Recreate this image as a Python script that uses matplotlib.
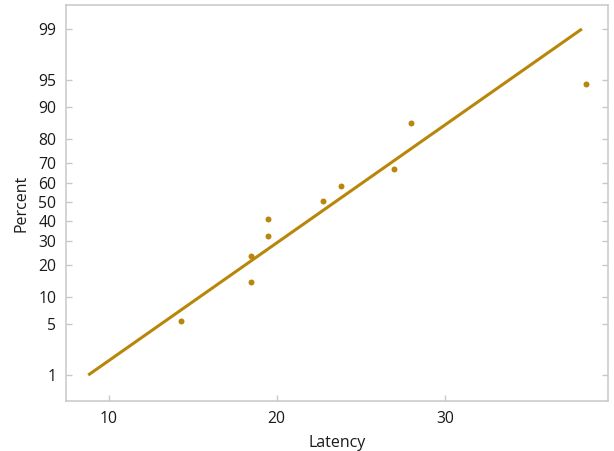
import matplotlib
matplotlib.use("Agg")
import matplotlib.pyplot as plt
from statistics import NormalDist

# Data
latency = [14.3, 18.5, 18.5, 19.5, 19.5, 22.75, 23.8, 27.0, 28.0, 38.4]
percent = [5.45, 14.2, 23.4, 32.5, 41.0, 50.5, 58.7, 67.3, 85.5, 94.4]
fit_mu, fit_sigma = 23.47, 6.31
percent_ticks = [1, 5, 10, 20, 30, 40, 50, 60, 70, 80, 90, 95, 99]

nd = NormalDist()


def probit(p):
    return nd.inv_cdf(p / 100.0)


color = "#B8860B"
grey = "#c8c8c8"
plt.rcParams["font.family"] = ["Open Sans", "DejaVu Sans"]

fig = plt.figure(figsize=(6.14, 4.51), dpi=100)
ax = fig.add_axes([66 / 614, 50 / 451, 542 / 614, 396 / 451])

# fitted line from 1% to 99%
line_p = [1, 99]
line_x = [fit_mu + fit_sigma * probit(p) for p in line_p]
ax.plot(line_x, [probit(p) for p in line_p], color=color, lw=2.2, solid_capstyle="butt")

ax.plot(latency, [probit(p) for p in percent], "o", color=color, ms=4.3, mec="none")

ax.set_xlim(7.47, 39.7)
ax.set_ylim(-2.675, 2.648)
ax.set_xticks([10, 20, 30])
ax.set_yticks([probit(p) for p in percent_ticks])
ax.set_yticklabels([str(p) for p in percent_ticks])

for s in ax.spines.values():
    s.set_color(grey)
    s.set_linewidth(1.1)
ax.tick_params(direction="in", length=4, width=1, color=grey, labelsize=11.3,
               labelcolor="#1a1a1a", pad=7, right=True)

ax.set_xlabel("Latency", fontsize=11.5, color="#1a1a1a", labelpad=6)
ax.set_ylabel("Percent", fontsize=11.5, color="#1a1a1a", labelpad=6)

fig.savefig("out.png", dpi=100)
